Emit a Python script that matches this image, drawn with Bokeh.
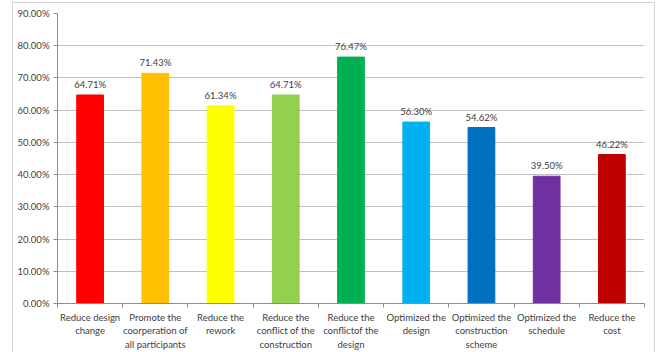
from bokeh.plotting import figure
from bokeh.models import ColumnDataSource, Range1d, FixedTicker, NumeralTickFormatter, LabelSet
from bokeh.core.properties import value
from bokeh.embed import file_html
from bokeh.resources import INLINE

categories = [
    "Reduce design change",
    "Promote the coorperation of all participants",
    "Reduce the rework",
    "Reduce the conflict of the construction",
    "Reduce the conflictof the design",
    "Optimized the design",
    "Optimized the construction scheme",
    "Optimized the schedule",
    "Reduce the cost",
]
tick_labels = [
    "Reduce design\nchange",
    "Promote the\ncoorperation of\nall participants",
    "Reduce the\nrework",
    "Reduce the\nconflict of the\nconstruction",
    "Reduce the\nconflictof the\ndesign",
    "Optimized the\ndesign",
    "Optimized the\nconstruction\nscheme",
    "Optimized the\nschedule",
    "Reduce the\ncost",
]
values_pct = [64.71, 71.43, 61.34, 64.71, 76.47, 56.30, 54.62, 39.50, 46.22]
colors = ["#FF0000", "#FFC000", "#FFFF00", "#92D050", "#00B050",
          "#00B0F0", "#0070C0", "#7030A0", "#C00000"]
y_ticks_pct = [0, 10, 20, 30, 40, 50, 60, 70, 80, 90]

FONT = "Lato"
TXT = "#404040"

n = len(categories)
centers = [i + 0.5 for i in range(n)]
source = ColumnDataSource(dict(
    x=centers,
    top=[v / 100 for v in values_pct],
    color=colors,
    label=[f"{v:.2f}%" for v in values_pct],
))

p = figure(width=643, height=350, output_backend="svg", toolbar_location=None,
           x_range=Range1d(0, n), y_range=Range1d(0, 0.9),
           min_border_left=44, min_border_right=12, min_border_top=10, min_border_bottom=47)
p.styles = {"margin-left": "12px", "margin-top": "2px",
            "border": "1px solid #d4d4d4", "border-bottom": "none"}
p.outline_line_color = None
p.background_fill_color = "white"
p.border_fill_color = "white"

p.vbar(x="x", top="top", width=0.41, color="color", source=source)

labels = LabelSet(x="x", y="top", text="label", source=source, text_align="center",
                  text_baseline="bottom", y_offset=5, text_font=value(FONT),
                  text_font_size=value("9.5px"), text_color=TXT)
p.add_layout(labels)

# y axis
p.yaxis.ticker = FixedTicker(ticks=[t / 100 for t in y_ticks_pct])
p.yaxis.formatter = NumeralTickFormatter(format="0.00%")
p.yaxis.major_label_text_font = FONT
p.yaxis.major_label_text_font_size = "9.5px"
p.yaxis.major_label_text_color = TXT
p.yaxis.axis_line_color = "#8c8c8c"
p.yaxis.major_tick_line_color = "#8c8c8c"
p.yaxis.major_tick_out = 4
p.yaxis.major_tick_in = 0
p.yaxis.minor_tick_line_color = None
p.yaxis.major_label_standoff = 4

# x axis
p.xaxis.ticker = FixedTicker(ticks=centers, minor_ticks=list(range(n + 1)))
p.xaxis.major_label_overrides = {c: lab for c, lab in zip(centers, tick_labels)}
p.xaxis.major_label_text_font = FONT
p.xaxis.major_label_text_font_size = "9.5px"
p.xaxis.major_label_text_color = TXT
p.xaxis.major_label_text_line_height = 1.25
p.xaxis.axis_line_color = "#8c8c8c"
p.xaxis.major_tick_line_color = None
p.xaxis.minor_tick_line_color = "#8c8c8c"
p.xaxis.minor_tick_out = 4
p.xaxis.minor_tick_in = 0
p.xaxis.major_label_standoff = 2

p.xgrid.grid_line_color = None
p.ygrid.grid_line_color = "#c0c0c0"
p.ygrid.grid_line_width = 1

open("out.html", "w").write(file_html(p, INLINE))
